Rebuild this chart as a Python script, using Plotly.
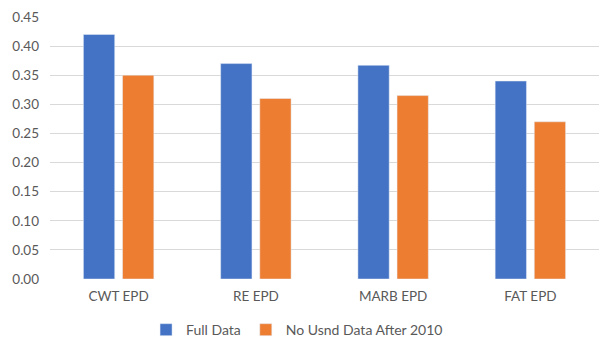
import plotly.graph_objects as go

categories = ["CWT EPD", "RE EPD", "MARB EPD", "FAT EPD"]
full_data = [0.42, 0.37, 0.367, 0.34]
no_usnd = [0.35, 0.31, 0.315, 0.27]
y_ticks = [0.00, 0.05, 0.10, 0.15, 0.20, 0.25, 0.30, 0.35, 0.40, 0.45]

fig = go.Figure()
fig.add_trace(go.Bar(x=categories, y=full_data, name="Full Data", marker_color="#4472C4"))
fig.add_trace(go.Bar(x=categories, y=no_usnd, name="No Usnd Data After 2010", marker_color="#ED7D31"))

font = dict(family="Lato, Open Sans, sans-serif", size=13.5, color="#595959")
fig.update_layout(
    width=615, height=354,
    margin=dict(l=50, r=16, t=17, b=75, autoexpand=False),
    paper_bgcolor="white", plot_bgcolor="white",
    barmode="group", bargap=0.43, bargroupgap=0.2,
    font=font,
    showlegend=True,
    legend=dict(orientation="h", x=0.45, xanchor="center", y=-0.195, yanchor="middle",
                font=dict(family="Lato, Open Sans, sans-serif", size=14, color="#595959"),
                itemwidth=30, traceorder="normal"),
    yaxis=dict(range=[0, 0.45], tickvals=y_ticks, tickformat=".2f",
               gridcolor="#D9D9D9", gridwidth=1, zeroline=False, showline=False,
               ticks="", ticklabelstandoff=10),
    xaxis=dict(showline=False, ticks="", showgrid=False, ticklabelstandoff=7),
)
fig.write_html("out.html")
